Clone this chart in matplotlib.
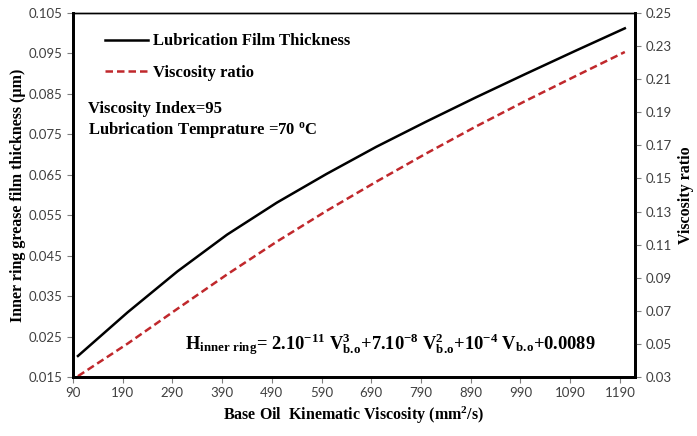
import matplotlib.pyplot as plt
import numpy as np

plt.rcParams['mathtext.fontset'] = 'custom'
plt.rcParams['mathtext.rm'] = 'Liberation Serif:bold'
plt.rcParams['mathtext.it'] = 'Liberation Serif:bold'
plt.rcParams['mathtext.bf'] = 'Liberation Serif:bold'

viscosity = [100, 200, 300, 400, 500, 600, 700, 800, 900, 1000, 1100, 1200]
film = [0.0202, 0.0310, 0.0411, 0.0502, 0.0581, 0.0652, 0.0719, 0.0781,
        0.0841, 0.0899, 0.0956, 0.1012]
ratio = [0.0305, 0.0502, 0.0712, 0.0920, 0.1118, 0.1304, 0.1480, 0.1650,
         0.1813, 0.1968, 0.2117, 0.2264]

xticks = np.arange(90, 1191, 100)
lticks = np.arange(0.015, 0.1051, 0.01)
rticks = np.arange(0.03, 0.2501, 0.02)

serif = 'Liberation Serif'
tickfont = 'Lato'
tickcol = '#404040'

fig = plt.figure(figsize=(6.97, 4.36), dpi=100)
ax = fig.add_axes([0.1047, 0.1353, 0.806, 0.835])
ax2 = ax.twinx()

l1, = ax.plot(viscosity, film, color='black', lw=1.8, label='Lubrication Film Thickness')
l2, = ax2.plot(viscosity, ratio, color='#c0282c', lw=1.8, ls=(0, (3, 1.6)),
               label='Viscosity ratio')

ax.set_xlim(90, 1220)
ax.set_ylim(0.015, 0.105)
ax2.set_ylim(0.03, 0.25)
ax.set_xticks(xticks)
ax.set_yticks(lticks)
ax2.set_yticks(rticks)
ax.set_xticklabels([str(v) for v in xticks])
ax.set_yticklabels(['%.3f' % v for v in lticks])
ax2.set_yticklabels(['%.2f' % v for v in rticks])

for a in (ax, ax2):
    for s in a.spines.values():
        s.set_linewidth(1.0)
    a.spines['left'].set_linewidth(2)
    a.spines['bottom'].set_linewidth(2)
    a.spines['right'].set_linewidth(2)
    a.tick_params(direction='out', length=4, width=0.8, color='#808080',
                  labelsize=9.5, labelcolor=tickcol)
    for t in a.get_xticklabels() + a.get_yticklabels():
        t.set_fontfamily(tickfont)

ax.set_xlabel('Base Oil  Kinematic Viscosity (mm$^{2}$/s)', fontfamily=serif,
              fontweight='bold', fontsize=11.5, labelpad=4)
ax.set_ylabel('Inner ring grease film thickness (µm)', fontfamily=serif,
              fontweight='bold', fontsize=11.5, labelpad=2)
ax2.set_ylabel('Viscosity ratio', fontfamily=serif, fontweight='bold',
               fontsize=11.5, labelpad=5)

ax.legend(handles=[l1, l2], loc='upper left', frameon=False,
          prop={'family': serif, 'weight': 'bold', 'size': 12},
          handlelength=2.6, handletextpad=0.3, labelspacing=0.95,
          bbox_to_anchor=(0.03, 0.985))

ax.text(0.027, 0.725, 'Viscosity Index=95', transform=ax.transAxes,
        fontfamily=serif, fontweight='bold', fontsize=12)
ax.text(0.027, 0.668, 'Lubrication Temprature =70 $^{o}$C', transform=ax.transAxes,
        fontfamily=serif, fontweight='bold', fontsize=12)
ax.text(0.2, 0.075,
        r'H$_{\mathrm{inner\ ring}}$= 2.10$^{-11}$ V$^{3}_{\mathrm{b.\!o}}$'
        r'+7.10$^{-8}$ V$^{2}_{\mathrm{b.\!o}}$+10$^{-4}$ V$_{\mathrm{b.\!o}}$+0.0089',
        transform=ax.transAxes, fontfamily=serif, fontweight='bold', fontsize=13.3)

fig.savefig('out.png', dpi=100)
